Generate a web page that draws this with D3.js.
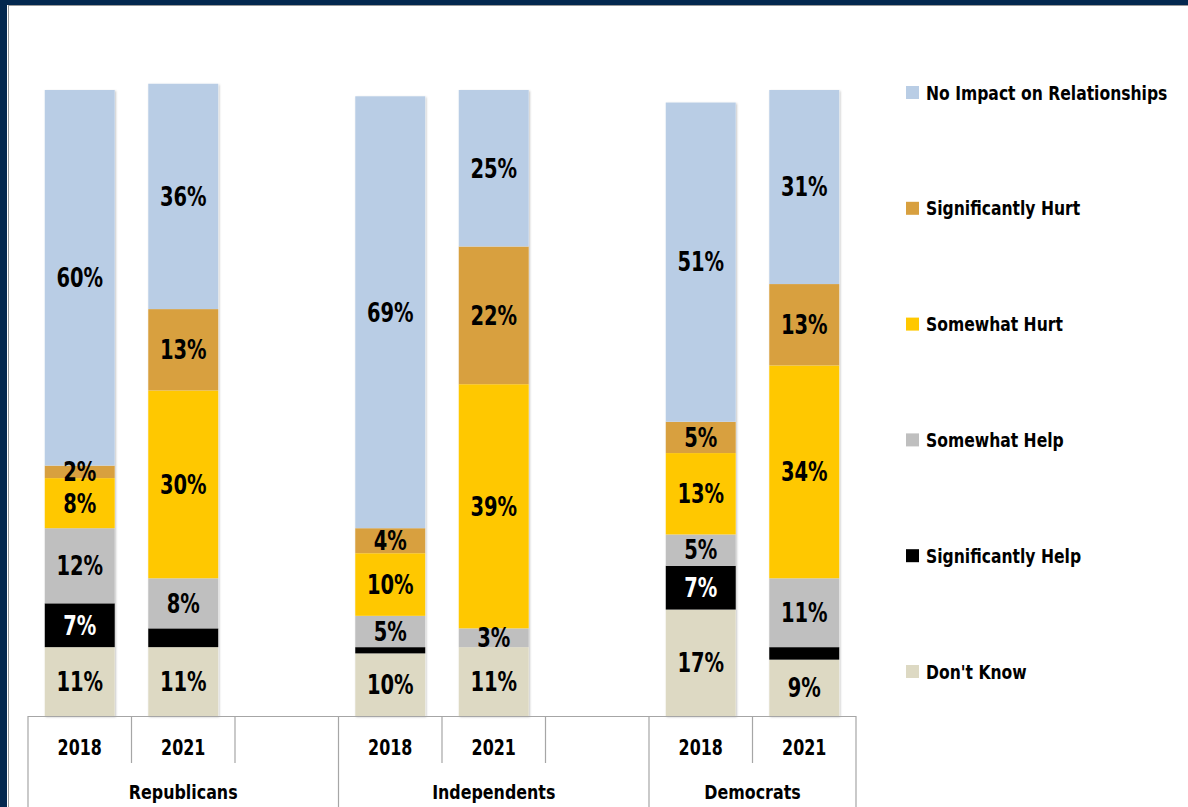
<!DOCTYPE html>
<html>
<head>
<meta charset="utf-8">
<script src="https://d3js.org/d3.v7.min.js"></script>
<style>
  body { margin:0; background:#fff; }
  svg text { font-family:"DejaVu Sans", sans-serif; font-weight:bold; }
</style>
</head>
<body>
<div id="chart"></div>
<script>
// bars, left to right
var groups = ["Republicans", "Independents", "Democrats"];
var years = ["2018", "2021"];
// slots on the axis: each party gets its years, and the first two a blank slot too
var slots = ["Republicans|2018", "Republicans|2021", "Republicans|",
             "Independents|2018", "Independents|2021", "Independents|",
             "Democrats|2018", "Democrats|2021"];
var bars = ["Republicans|2018", "Republicans|2021", "Independents|2018",
            "Independents|2021", "Democrats|2018", "Democrats|2021"];

// series, bottom of the stack first
var series = ["Don't Know", "Significantly Help", "Somewhat Help",
              "Somewhat Hurt", "Significantly Hurt", "No Impact on Relationships"];
var dontKnow     = [11, 11, 10, 11, 17, 9];
var sigHelp      = [7, 3, 1, 0, 7, 2];
var somewhatHelp = [12, 8, 5, 3, 5, 11];
var somewhatHurt = [8, 30, 10, 39, 13, 34];
var sigHurt      = [2, 13, 4, 22, 5, 13];
var noImpact     = [60, 36, 69, 25, 51, 31];
var colors = ["#DDD9C3", "#000000", "#BFBFBF", "#FFC800", "#D8A03F", "#B9CDE5"];

var W = 1188, H = 807;
var svg = d3.select("#chart").append("svg").attr("width", W).attr("height", H);

svg.append("rect").attr("width", W).attr("height", H).attr("fill", "#fff");

var defs = svg.append("defs");
defs.append("filter").attr("id", "shadow").attr("x", "-10%").attr("y", "-10%").attr("width", "130%").attr("height", "130%")
  .append("feDropShadow").attr("dx", 1).attr("dy", 1).attr("stdDeviation", 1.2)
  .attr("flood-color", "#000").attr("flood-opacity", 0.25);

// no condensed face installed, so squeeze the text sideways around its x
function squeeze(sel, k) {
  sel.attr("transform", function() {
    var x0 = +this.getAttribute("x");
    return "translate(" + x0 + ",0) scale(" + k + ",1) translate(" + (-x0) + ",0)";
  });
}

var x = d3.scaleBand().domain(slots).range([28, 856]);
var y = d3.scaleLinear().domain([0, 100]).range([716, 90]);
var barW = 70;

var table = bars.map(function(b, i) {
  return {
    key: b,
    "Don't Know": dontKnow[i],
    "Significantly Help": sigHelp[i],
    "Somewhat Help": somewhatHelp[i],
    "Somewhat Hurt": somewhatHurt[i],
    "Significantly Hurt": sigHurt[i],
    "No Impact on Relationships": noImpact[i]
  };
});
var stacked = d3.stack().keys(series)(table);
var total = function(d) { return d3.sum(series, function(s) { return d[s]; }); };

// a soft shadow under each whole bar
svg.append("g").selectAll("rect")
  .data(table)
  .enter().append("rect")
  .attr("x", function(d) { return x(d.key) + (x.bandwidth() - barW) / 2; })
  .attr("width", barW)
  .attr("y", function(d) { return y(total(d)); })
  .attr("height", function(d) { return y(0) - y(total(d)); })
  .attr("fill", "#fff")
  .attr("filter", "url(#shadow)");

var layer = svg.append("g").selectAll("g")
  .data(stacked)
  .enter().append("g")
  .attr("fill", function(d, i) { return colors[i]; });

layer.selectAll("rect")
  .data(function(d) { return d; })
  .enter().append("rect")
  .attr("x", function(d) { return x(d.data.key) + (x.bandwidth() - barW) / 2; })
  .attr("width", barW)
  .attr("y", function(d) { return y(d[1]); })
  .attr("height", function(d) { return y(d[0]) - y(d[1]); });

// value labels (thin "Significantly Help" slices carry none)
stacked.forEach(function(s) {
  svg.append("g").selectAll("text")
    .data(s.filter(function(d) {
      var v = d[1] - d[0];
      return v > 0 && !(s.key === "Significantly Help" && v < 5);
    }))
    .enter().append("text")
    .attr("x", function(d) { return x(d.data.key) + x.bandwidth() / 2; })
    .attr("y", function(d) { return (y(d[0]) + y(d[1])) / 2; })
    .attr("dy", "0.36em")
    .attr("text-anchor", "middle")
    .attr("font-size", 26)
    .attr("fill", s.key === "Significantly Help" ? "#fff" : "#000")
    .text(function(d) { return (d[1] - d[0]) + "%"; })
    .call(squeeze, 0.75);
});

// category axis: baseline, year row, party row
var axisG = svg.append("g").attr("stroke", "#A6A6A6").attr("stroke-width", 1.2);
axisG.append("line").attr("x1", 28).attr("x2", 856).attr("y1", 716.5).attr("y2", 716.5);
var bounds = slots.map(function(s) { return x(s); }).concat([856]);
bounds.forEach(function(b, i) {
  var full = i === 0 || i === bounds.length - 1 || (slots[i] && slots[i].split("|")[1] === "2018");
  axisG.append("line").attr("x1", b).attr("x2", b)
    .attr("y1", 716).attr("y2", full ? H : 763);
});

svg.append("g").selectAll("text")
  .data(bars)
  .enter().append("text")
  .attr("x", function(d) { return x(d) + x.bandwidth() / 2; })
  .attr("y", 755)
  .attr("text-anchor", "middle")
  .attr("font-size", 21.5)
  .text(function(d) { return d.split("|")[1]; })
  .call(squeeze, 0.74);

svg.append("g").selectAll("text")
  .data(groups)
  .enter().append("text")
  .attr("x", function(g) {
    var own = slots.filter(function(s) { return s.split("|")[0] === g; });
    var a = x(own[0]), b = x(own[own.length - 1]) + x.bandwidth();
    return (a + b) / 2;
  })
  .attr("y", 799)
  .attr("text-anchor", "middle")
  .attr("font-size", 19.5)
  .text(function(g) { return g; })
  .call(squeeze, 0.815);

// legend, top to bottom
var legend = svg.append("g").attr("transform", "translate(906,93)");
var legendItems = series.slice().reverse();
legendItems.forEach(function(s, i) {
  var row = legend.append("g").attr("transform", "translate(0," + (i * 115.8) + ")");
  row.append("rect").attr("x", 0).attr("y", -7).attr("width", 13).attr("height", 13)
    .attr("fill", colors[series.indexOf(s)]);
  row.append("text").attr("x", 20).attr("y", 6.5).attr("font-size", 19.5).text(s)
    .call(squeeze, 0.8);
});

// frame
svg.append("rect").attr("x", 0).attr("y", 0).attr("width", W).attr("height", 5).attr("fill", "#03284F");
svg.append("rect").attr("x", 0).attr("y", 0).attr("width", 7).attr("height", H).attr("fill", "#03284F");
svg.append("line").attr("x1", 8.5).attr("x2", 8.5).attr("y1", 5).attr("y2", H).attr("stroke", "#9a9a9a");
svg.append("line").attr("x1", 8).attr("x2", W).attr("y1", 5.5).attr("y2", 5.5).attr("stroke", "#9a9a9a");
</script>
</body>
</html>
